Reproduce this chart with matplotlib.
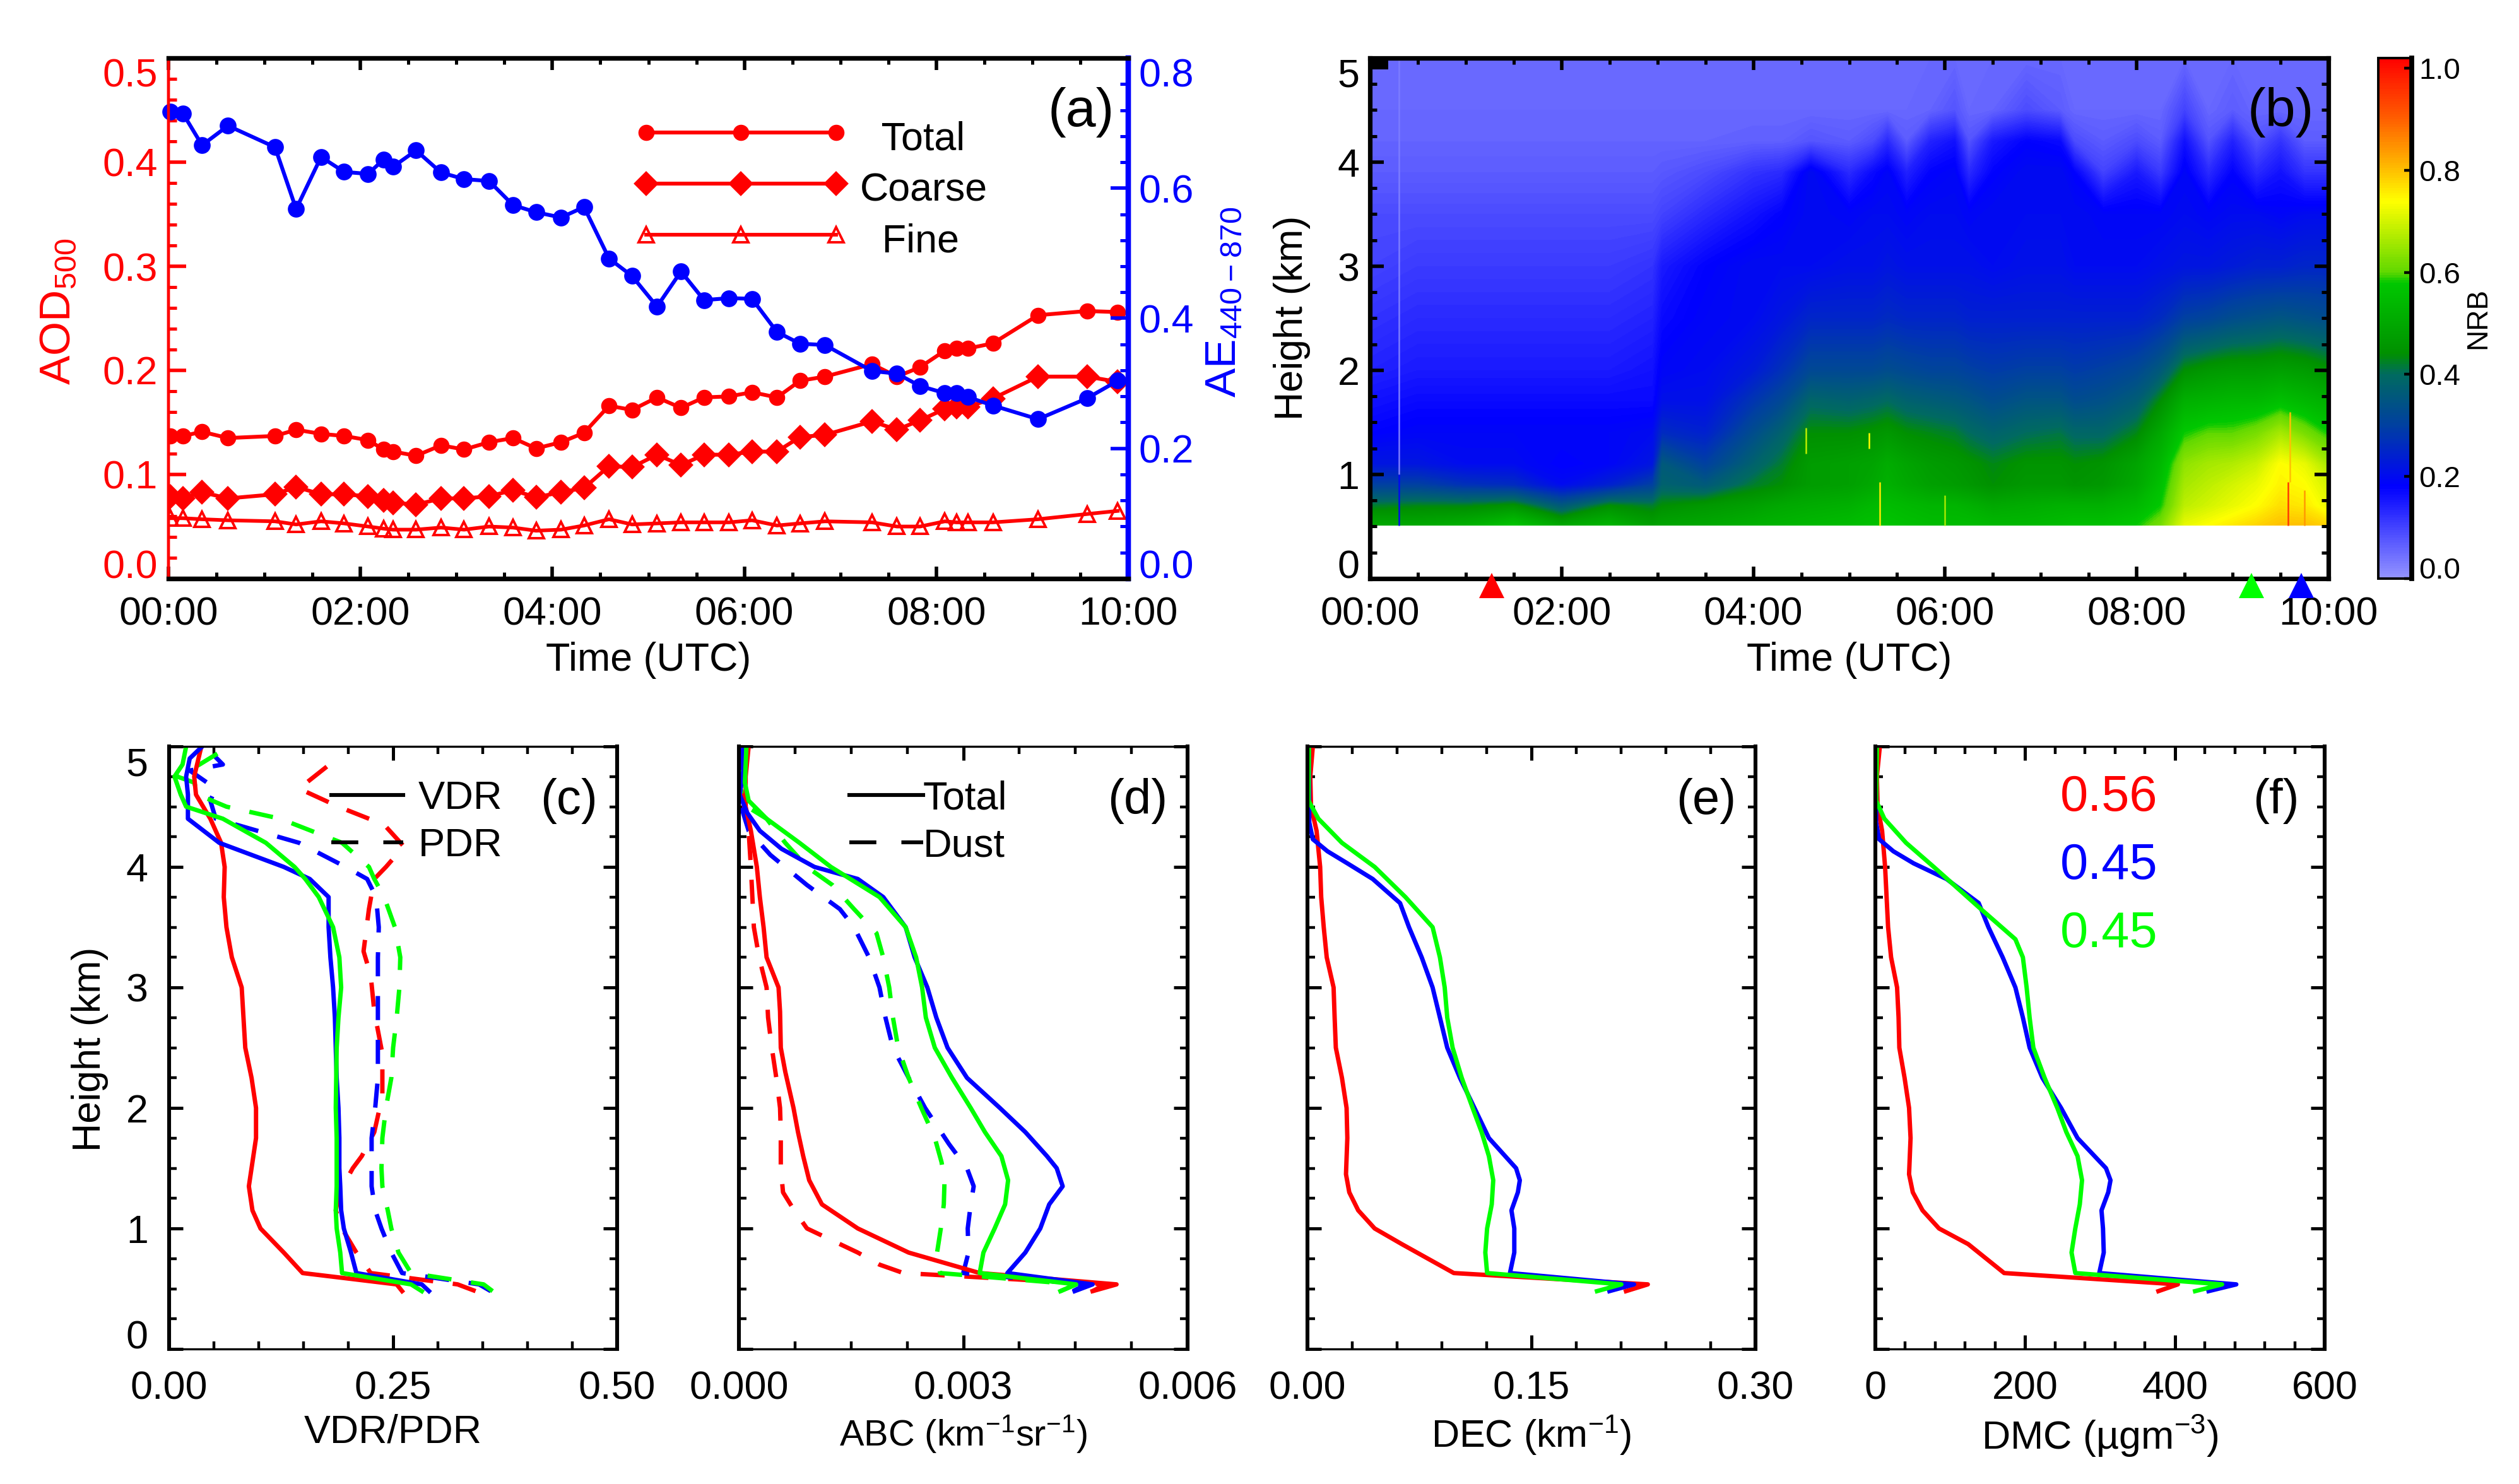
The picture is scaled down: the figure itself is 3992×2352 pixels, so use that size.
import numpy as np
import matplotlib
matplotlib.use('Agg')
import matplotlib.pyplot as plt
from matplotlib.colors import LinearSegmentedColormap, Normalize
from matplotlib.lines import Line2D
from matplotlib.ticker import MultipleLocator

plt.rcParams['font.family'] = ['Liberation Sans', 'DejaVu Sans']
plt.rcParams['mathtext.default'] = 'regular'

W, H = 3992, 2352
RED, BLUE, GREEN = '#ff0000', '#0000ff', '#00ff00'

# panel (a): sun photometer
sun_time = [.02, .15, .35, .62, 1.11, 1.33, 1.59, 1.83, 2.08, 2.24, 2.34, 2.58, 2.84, 3.08, 3.34, 3.59, 3.83, 4.09, 4.33,
            4.59, 4.83, 5.09, 5.34, 5.58, 5.84, 6.08, 6.34, 6.58, 6.84, 7.33, 7.59, 7.83, 8.09, 8.21, 8.33, 8.59, 9.06, 9.57, 9.89]
aod_total = [.137, .137, .141, .135, .137, .143, .139, .137, .133, .124, .122, .118, .128, .124, .131, .135, .125, .131, .140,
             .166, .162, .174, .164, .174, .175, .179, .174, .190, .194, .206, .194, .203, .219, .221, .221, .226, .253, .257, .256]
aod_coarse = [.079, .077, .083, .077, .081, .088, .081, .081, .079, .075, .073, .071, .077, .077, .079, .085, .078, .083, .087,
              .108, .107, .119, .109, .119, .119, .122, .122, .136, .138, .151, .143, .152, .163, .165, .165, .173, .194, .194, .189]
aod_fine = [.058, .058, .057, .056, .055, .052, .055, .053, .05, .048, .047, .047, .049, .047, .05, .049, .046, .047, .051,
            .057, .052, .053, .054, .054, .054, .056, .051, .053, .055, .054, .05, .05, .055, .054, .054, .054, .057, .062, .065]
ae = [.718, .715, .666, .696, .663, .568, .648, .625, .622, .644, .633, .658, .624, .614, .611, .574, .563, .555, .571,
      .492, .465, .418, .472, .428, .431, .43, .379, .361, .359, .319, .315, .296, .285, .285, .279, .266, .245, .277, .304]
time_labels = ['00:00', '02:00', '04:00', '06:00', '08:00', '10:00']
time_ticks = [0, 2, 4, 6, 8, 10]

# panel (b): lidar NRB, rows low to high
nrb_time = [0, .5, 1, 1.5, 2, 2.5, 2.95, 3.05, 3.5, 4, 4.3, 4.6, 5, 5.25, 5.4, 5.6, 5.85, 6.1, 6.25, 6.5, 6.85, 7.2, 7.35, 7.65, 8, 8.25, 8.5, 8.75, 9, 9.25, 9.5, 9.75, 10]
nrb_height = [.51, .7, .9, 1.1, 1.4, 1.7, 2.0, 2.5, 3.0, 3.5, 3.9, 4.2, 4.5, 5.0]
nrb_051 = [.5, .5, .52, .57, .5, .53, .48, .49, .5, .52, .53, .54, .55, .56, .57, .56, .55, .55, .55, .54, .54, .55, .56, .56, .58, .62, .72, .74, .76, .78, .8, .8, .78]
nrb_070 = [.42, .43, .43, .45, .36, .44, .42, .44, .46, .48, .5, .51, .52, .54, .55, .54, .53, .53, .52, .5, .51, .52, .52, .52, .54, .58, .68, .7, .72, .74, .77, .76, .72]
nrb_090 = [.3, .3, .27, .26, .2, .24, .3, .38, .36, .42, .44, .47, .48, .5, .52, .5, .48, .47, .46, .44, .46, .46, .45, .46, .5, .56, .66, .68, .7, .72, .75, .74, .7]
nrb_110 = [.22, .22, .2, .2, .18, .19, .22, .36, .3, .38, .42, .47, .48, .49, .51, .49, .47, .46, .45, .43, .45, .45, .44, .45, .49, .54, .64, .66, .67, .69, .74, .72, .66]
nrb_140 = [.18, .19, .19, .19, .19, .19, .2, .26, .24, .33, .38, .44, .44, .45, .46, .44, .43, .42, .4, .38, .4, .41, .39, .39, .43, .5, .58, .6, .6, .62, .66, .62, .58]
nrb_170 = [.16, .17, .17, .17, .17, .17, .17, .21, .21, .28, .32, .39, .38, .39, .4, .38, .37, .36, .35, .33, .35, .35, .33, .34, .37, .44, .52, .53, .54, .54, .56, .54, .52]
nrb_200 = [.14, .15, .15, .15, .15, .15, .16, .19, .2, .23, .27, .32, .32, .32, .33, .32, .31, .31, .3, .29, .3, .3, .29, .3, .32, .36, .44, .46, .47, .47, .48, .47, .45]
nrb_250 = [.12, .13, .13, .13, .13, .13, .14, .17, .19, .2, .22, .25, .25, .25, .26, .25, .25, .25, .24, .24, .24, .24, .24, .24, .24, .26, .3, .31, .33, .34, .35, .34, .33]
nrb_300 = [.1, .11, .11, .11, .11, .11, .12, .15, .18, .2, .2, .2, .21, .21, .22, .21, .21, .21, .21, .2, .21, .21, .2, .2, .2, .21, .22, .22, .23, .24, .24, .25, .25]
nrb_350 = [.09, .09, .09, .09, .09, .09, .09, .1, .13, .16, .18, .2, .19, .2, .2, .19, .2, .2, .19, .2, .2, .2, .2, .19, .19, .19, .2, .19, .2, .2, .19, .2, .2]
nrb_390 = [.07, .07, .07, .07, .07, .07, .07, .075, .09, .12, .13, .2, .13, .17, .19, .14, .18, .19, .13, .18, .2, .2, .18, .1, .15, .11, .19, .13, .18, .13, .16, .12, .12]
nrb_420 = [.06, .06, .06, .06, .06, .06, .06, .06, .06, .065, .065, .08, .07, .09, .13, .07, .14, .16, .08, .15, .18, .17, .09, .07, .09, .07, .16, .08, .14, .08, .12, .07, .07]
nrb_450 = [.055, .055, .055, .055, .055, .055, .055, .055, .055, .055, .055, .055, .055, .055, .055, .055, .06, .08, .055, .06, .09, .07, .055, .055, .055, .055, .1, .055, .07, .055, .055, .055, .055]
nrb_500 = [.055] * 33
streak_time = [4.55, 5.21, 5.32, 6.0, 9.58, 9.6, 9.75, .3, .3]
streak_low = [1.2, 1.25, .51, .51, .51, .93, .51, 1.0, .51]
streak_high = [1.45, 1.4, .93, .8, .93, 1.6, .85, 5.0, 1.0]
streak_value = [.68, .74, .76, .66, .95, .8, .84, .03, .2]
site_time = [1.27, 9.2, 9.72]

# panel (c): depolarization ratios
vdr_red_h = [.48, .536, .63, .8, 1.0, 1.15, 1.35, 1.5, 1.75, 2.0, 2.25, 2.5, 2.75, 3.0, 3.25, 3.5, 3.75, 4.0, 4.2, 4.4, 4.6, 4.75, 5.0]
vdr_red = [.26, .254, .149, .128, .102, .093, .089, .092, .097, .097, .092, .085, .083, .081, .07, .064, .061, .062, .058, .046, .03, .028, .036]
vdr_blue_h = [.48, .536, .63, .8, 1.0, 1.15, 1.35, 1.5, 1.75, 2.0, 2.25, 2.5, 2.75, 3.0, 3.25, 3.5, 3.75, 3.9, 4.0, 4.2, 4.4, 4.6, 4.75, 4.9, 5.0]
vdr_blue = [.29, .282, .209, .203, .195, .192, .191, .19, .19, .189, .187, .186, .185, .183, .18, .178, .178, .157, .128, .056, .021, .021, .019, .023, .037]
vdr_green_h = [.48, .536, .63, .8, 1.0, 1.15, 1.35, 1.75, 2.0, 2.5, 2.75, 3.0, 3.25, 3.5, 3.75, 3.9, 4.0, 4.2, 4.4, 4.5, 4.6, 4.75, 4.85, 5.0]
vdr_green = [.282, .27, .193, .191, .187, .186, .187, .187, .186, .187, .189, .192, .19, .183, .167, .152, .14, .108, .06, .019, .013, .006, .015, .019]
pdr_red_h = [.48, .536, .63, .8, 1.0, 1.15, 1.3, 1.5, 1.6, 1.8, 2.1, 2.45, 2.8, 3.1, 3.3, 3.65, 3.9, 4.0, 4.17, 4.35, 4.5, 4.65, 4.85]
pdr_red = [.342, .322, .225, .209, .193, .186, .19, .205, .215, .229, .238, .238, .229, .225, .217, .223, .229, .242, .262, .24, .189, .145, .179]
pdr_blue_h = [.48, .536, .63, .8, 1.0, 1.15, 1.35, 1.5, 1.75, 2.0, 2.25, 2.5, 2.75, 3.0, 3.25, 3.5, 3.75, 3.9, 4.0, 4.2, 4.4, 4.55, 4.65, 4.8, 4.85, 5.0]
pdr_blue = [.359, .346, .26, .248, .237, .23, .226, .226, .226, .23, .233, .233, .233, .233, .233, .234, .231, .221, .197, .145, .052, .046, .052, .023, .06, .04]
pdr_green_h = [.48, .536, .63, .8, 1.0, 1.15, 1.35, 1.5, 1.75, 2.0, 2.25, 2.5, 2.75, 3.0, 3.25, 3.5, 3.75, 3.9, 4.0, 4.2, 4.4, 4.5, 4.6, 4.7, 4.75, 4.85, 4.95, 5.0]
pdr_green = [.361, .351, .27, .256, .248, .244, .238, .237, .238, .242, .248, .25, .254, .257, .258, .252, .24, .229, .223, .193, .124, .064, .032, .028, .009, .034, .056, .054]

# panel (d): attenuated backscatter
abc_red_h = [.48, .536, .63, .8, 1.0, 1.2, 1.4, 1.6, 1.8, 2.0, 2.3, 2.5, 2.8, 3.0, 3.25, 3.5, 3.75, 4.0, 4.3, 4.5, 4.75, 5.0]
abc_red = [.00473, .00505, .00322, .00227, .00159, .00111, .00094, .00086, .00079, .00073, .00062, .00056, .00055, .00053, .00037, .00033, .00028, .00024, .00016, .00009, .00009, .00013]
abc_blue_h = [.48, .536, .63, .8, 1.0, 1.2, 1.35, 1.5, 1.6, 1.8, 2.0, 2.25, 2.5, 2.75, 3.0, 3.25, 3.5, 3.75, 3.9, 4.0, 4.15, 4.3, 4.45, 4.6, 4.8, 5.0]
abc_blue = [.00449, .00473, .00359, .00383, .00403, .00415, .00433, .00425, .00412, .00383, .00349, .00305, .00279, .00264, .00252, .00235, .00223, .00193, .00159, .00101, .00057, .00028, .00011, .00001, .00006, .00004]
abc_green_h = [.48, .536, .63, .8, 1.0, 1.2, 1.4, 1.6, 1.8, 2.0, 2.25, 2.5, 2.75, 3.0, 3.25, 3.5, 3.75, 4.0, 4.2, 4.4, 4.55, 4.7, 5.0]
abc_green = [.0043, .00451, .00322, .00327, .00342, .00356, .0036, .00351, .00329, .0031, .00285, .00262, .0025, .00245, .00237, .00223, .00188, .00123, .00081, .00037, .00013, .00008, .0001]
dust_red_h = [.48, .536, .63, .7, .8, 1.0, 1.15, 1.3, 1.5, 1.8, 2.0, 2.25, 2.5, 2.75, 3.0, 3.25, 3.5, 3.75, 4.0, 4.3, 4.5, 4.7, 5.0]
dust_red = [.00473, .0049, .0022, .00188, .00159, .00091, .00074, .00059, .00056, .00056, .00055, .0005, .00044, .00039, .00037, .00027, .0002, .00018, .00016, .00013, .00007, .00002, .00001]
dust_blue_h = [.48, .536, .63, .8, 1.0, 1.2, 1.35, 1.5, 1.7, 2.0, 2.25, 2.5, 2.75, 3.0, 3.25, 3.5, 3.65, 3.85, 4.1, 4.3, 4.5, 5.0]
dust_blue = [.00447, .00464, .003, .00307, .00306, .0031, .00314, .00305, .00281, .00249, .00227, .00206, .00196, .00188, .00174, .00154, .00135, .00091, .00042, .00013, .00003, .00001]
dust_green_h = [.48, .536, .63, .8, 1.0, 1.2, 1.4, 1.55, 1.75, 2.0, 2.25, 2.5, 2.75, 3.0, 3.25, 3.45, 3.65, 3.85, 4.0, 4.2, 4.4, 4.5, 4.65, 5.0]
dust_green = [.0043, .00451, .00269, .00265, .0027, .00274, .00275, .00271, .00262, .00244, .00227, .00213, .00206, .00201, .00193, .00184, .00154, .00125, .00091, .00062, .00037, .00011, .00002, .00008]

# panel (e): dust extinction
dec_red_h = [.48, .536, .63, .87, 1.0, 1.15, 1.3, 1.45, 1.75, 2.0, 2.25, 2.5, 2.75, 3.0, 3.25, 3.5, 3.75, 4.0, 4.3, 4.5, 4.75, 5.0]
dec_red = [.2133, .2279, .098, .0632, .045, .034, .028, .0258, .0267, .0262, .0231, .019, .0182, .0175, .0129, .0109, .0092, .0085, .0061, .0024, .0019, .0036]
dec_blue_h = [.48, .536, .63, .8, 1.0, 1.15, 1.3, 1.4, 1.5, 1.75, 2.0, 2.25, 2.5, 2.75, 3.0, 3.25, 3.5, 3.7, 3.9, 4.03, 4.13, 4.23, 4.37, 5.0]
dec_blue = [.2022, .2187, .1356, .1385, .1385, .1366, .1409, .1422, .1397, .1215, .1118, .1021, .0936, .0887, .0838, .0765, .068, .062, .0437, .0267, .0134, .0036, .0012, .001]
dec_green_h = [.48, .536, .63, .8, 1.0, 1.2, 1.4, 1.6, 1.8, 2.0, 2.25, 2.5, 2.75, 3.0, 3.25, 3.5, 3.75, 4.0, 4.2, 4.4, 4.55, 5.0]
dec_green = [.1939, .2102, .1203, .1191, .1203, .1234, .1244, .1215, .1166, .1106, .1033, .0972, .0936, .0919, .0887, .0838, .0656, .045, .0231, .0073, .0007, .001]

# panel (f): dust mass concentration
dmc_red_h = [.48, .536, .63, .87, 1.0, 1.15, 1.3, 1.45, 1.75, 2.0, 2.25, 2.5, 2.75, 3.0, 3.25, 3.5, 3.75, 4.0, 4.3, 4.5, 4.75, 5.0]
dmc_red = [378, 404, 172, 124, 85, 63, 50, 45, 47, 45, 39, 32, 31, 29, 21, 17, 15, 13, 9, 3, 2, 6]
dmc_blue_h = [.48, .536, .63, .8, 1.0, 1.15, 1.3, 1.4, 1.5, 1.75, 2.0, 2.25, 2.5, 2.75, 3.0, 3.25, 3.5, 3.7, 3.9, 4.03, 4.13, 4.23, 4.37, 5.0]
dmc_blue = [445, 482, 299, 305, 304, 302, 311, 314, 308, 270, 248, 223, 206, 197, 187, 170, 151, 138, 95, 51, 24, 5, 1, 1]
dmc_green_h = [.48, .536, .63, .8, 1.0, 1.2, 1.4, 1.6, 1.8, 2.0, 2.25, 2.5, 2.75, 3.0, 3.25, 3.4, 3.65, 4.0, 4.2, 4.4, 4.55, 5.0]
dmc_green = [427, 463, 267, 262, 267, 273, 276, 270, 255, 243, 226, 211, 206, 202, 197, 187, 141, 78, 41, 12, 1, 2]
ratio_labels = ['0.56', '0.45', '0.45']


def box(x0, x1, y0, y1):
    # pixel box of the reference -> figure fraction
    return [x0 / W, 1 - y1 / H, (x1 - x0) / W, (y1 - y0) / H]


def ends_inside(labels):
    # end labels sit inside the axis range, as in IDL
    labels[0].set_va('baseline')
    labels[-1].set_va('top')


fig = plt.figure(figsize=(W / 400, H / 400), dpi=400)

# ---- (a)
ax = fig.add_axes(box(267, 1788, 92, 917))
ax2 = ax.twinx()
ax.plot(sun_time, aod_total, '-o', c=RED, lw=1.1, ms=3.6)
ax.plot(sun_time, aod_coarse, '-D', c=RED, lw=1.1, ms=4.2)
ax.plot(sun_time, aod_fine, '-^', c=RED, lw=1.05, ms=4.2, mfc='none', mew=.7)
ax2.plot(sun_time, ae, '-o', c=BLUE, lw=1.1, ms=3.8, clip_on=False)
ax.set_xlim(0, 10)
ax.set_ylim(0, .5)
ax2.set_ylim(0, .8)
ax.set_xticks(time_ticks, time_labels)
ax.xaxis.set_minor_locator(MultipleLocator(.5))
ax.set_yticks([0, .1, .2, .3, .4, .5], ['0.0', '0.1', '0.2', '0.3', '0.4', '0.5'])
ax.yaxis.set_minor_locator(MultipleLocator(.02))
ax2.set_yticks([0, .2, .4, .6, .8], ['0.0', '0.2', '0.4', '0.6', '0.8'])
ax2.yaxis.set_minor_locator(MultipleLocator(.04))
ax.tick_params(axis='x', which='major', direction='in', top=True, length=3.5, width=1, labelsize=11.3, pad=5)
ax.tick_params(axis='x', which='minor', direction='in', top=True, length=1.8, width=.9)
ax.tick_params(axis='y', which='major', direction='in', length=5, width=1, color=RED, labelcolor=RED, labelsize=11.3, pad=3)
ax.tick_params(axis='y', which='minor', direction='in', length=2.4, width=.9, color=RED)
ax2.tick_params(axis='y', which='major', direction='in', length=5, width=1, color=BLUE, labelcolor=BLUE, labelsize=11.3, pad=3)
ax2.tick_params(axis='y', which='minor', direction='in', length=2.4, width=.9, color=BLUE)
ends_inside(ax.get_yticklabels())
ends_inside(ax2.get_yticklabels())
for a in (ax, ax2):
    a.spines['top'].set_linewidth(1.3)
    a.spines['bottom'].set_linewidth(1.3)
    a.spines['left'].set_color(RED)
    a.spines['right'].set_color(BLUE)
    a.spines['right'].set_linewidth(1.5)
ax.set_xlabel('Time (UTC)', fontsize=11.3, labelpad=2.4)
keys_a = [Line2D([], [], c=RED, lw=1.1, marker='o', ms=3.6),
          Line2D([], [], c=RED, lw=1.1, marker='D', ms=4.2),
          Line2D([], [], c=RED, lw=1.05, marker='^', ms=4.2, mfc='none', mew=.7)]
ax.legend(keys_a, ['  Total', 'Coarse', '  Fine'], numpoints=3, frameon=False, fontsize=11.3, handlelength=5.4, handleheight=1.3,
          handletextpad=.3, labelspacing=.2, borderpad=0, borderaxespad=0, loc='upper left', bbox_to_anchor=(.485, .89))
fig.text(93 / W, 1 - 494 / H, r'AOD$_{500}$', color=RED, fontsize=12.5, rotation=90, ha='center', va='center')
fig.text(1940 / W, 1 - 478 / H, r'AE$_{440-870}$', color=BLUE, fontsize=12.5, rotation=90, ha='center', va='center')
fig.text(1713 / W, 1 - 178 / H, '(a)', fontsize=15.5, ha='center', va='center')

# ---- (b)
nrb_cmap = LinearSegmentedColormap.from_list('nrb', [
    (0, '#9494ff'), (.18 / 1.02, '#0000ff'), (.3 / 1.02, '#0040a0'), (.4 / 1.02, '#006a60'), (.44 / 1.02, '#009000'),
    (.58 / 1.02, '#00c800'), (.6 / 1.02, '#60d800'), (.74 / 1.02, '#ffff00'), (.8 / 1.02, '#ffc000'),
    (.9 / 1.02, '#ff6000'), (1, '#ff0000')], N=512)
nrb_norm = Normalize(0, 1.02)
nrb = np.array([nrb_051, nrb_070, nrb_090, nrb_110, nrb_140, nrb_170, nrb_200, nrb_250, nrb_300, nrb_350, nrb_390,
                nrb_420, nrb_450, nrb_500])
ax = fig.add_axes(box(2171, 3690, 92, 917))
cf = ax.contourf(nrb_time, nrb_height, nrb, levels=np.linspace(0, 1.02, 205), cmap=nrb_cmap, norm=nrb_norm, antialiased=False)
ax.vlines(streak_time, streak_low, streak_high, colors=nrb_cmap(nrb_norm(streak_value)), lw=.45)
ax.fill_between([0, .19], 4.89, 5, color='k', lw=0)
ax.set_xlim(0, 10)
ax.set_ylim(0, 5)
ax.set_xticks(time_ticks, time_labels)
ax.xaxis.set_minor_locator(MultipleLocator(.5))
ax.set_yticks([0, 1, 2, 3, 4, 5], ['0', '1', '2', '3', '4', '5'])
ax.yaxis.set_minor_locator(MultipleLocator(.25))
ax.tick_params(axis='x', which='major', direction='in', top=True, length=3.5, width=1, labelsize=11.3, pad=5)
ax.tick_params(axis='x', which='minor', direction='in', top=True, length=1.8, width=.9)
ax.tick_params(axis='y', which='major', direction='in', right=True, length=4, width=1, labelsize=11.3, pad=3)
ax.tick_params(axis='y', which='minor', direction='in', right=True, length=2, width=.9)
ends_inside(ax.get_yticklabels())
for s in ax.spines.values():
    s.set_linewidth(1.3)
ax.set_xlabel('Time (UTC)', fontsize=11.3, labelpad=2.4)
for t, c in zip(site_time, [RED, GREEN, BLUE]):
    ax.plot(t, -.065, '^', c=c, ms=7.2, mew=0, clip_on=False, zorder=5)
fig.text(2048 / W, 1 - 504 / H, 'Height (km)', fontsize=11.3, rotation=90, ha='center', va='center')
fig.text(3614 / W, 1 - 178 / H, '(b)', fontsize=15.5, ha='center', va='center')

cax = fig.add_axes(box(3769, 3822, 92, 917))
cbar = fig.colorbar(cf, cax=cax, ticks=[0, .2, .4, .6, .8, 1])
cbar.ax.set_yticklabels(['0.0', '0.2', '0.4', '0.6', '0.8', '1.0'])
cbar.ax.tick_params(direction='in', length=2.2, width=.8, labelsize=8.5, pad=2)
cbar.ax.minorticks_off()
cbar.outline.set_linewidth(.7)
cbar.ax.get_yticklabels()[0].set_va('baseline')
cbar.ax.axvline(1, c='k', lw=1.4, clip_on=False)
fig.text(3927 / W, 1 - 504 / H, 'NRB', fontsize=8.3, rotation=90, ha='center', va='center')

# ---- profile panels
profile_boxes = [(268, 978), (1171, 1882), (2072, 2782), (2972, 3684)]
profile_xmax = [.5, .006, .3, 600]
profile_xmajor = [[0, .25, .5], [0, .003, .006], [0, .15, .3], [0, 200, 400, 600]]
profile_xlabels = [['0.00', '0.25', '0.50'], ['0.000', '0.003', '0.006'], ['0.00', '0.15', '0.30'], ['0', '200', '400', '600']]
profile_xminor = [.05, .00075, .03, 40]
profile_titles = ['VDR/PDR', 'ABC (km$^{-1}$sr$^{-1}$)', 'DEC (km$^{-1}$)', 'DMC (\u00b5gm$^{-3}$)']
profile_title_size = [11.3, 10.4, 11, 11.3]
profile_tags = ['(c)', '(d)', '(e)', '(f)']
tag_px = [902, 1803, 2704, 3607]
solid = [[(vdr_red, vdr_red_h), (vdr_blue, vdr_blue_h), (vdr_green, vdr_green_h)],
         [(abc_red, abc_red_h), (abc_blue, abc_blue_h), (abc_green, abc_green_h)],
         [(dec_red, dec_red_h), (dec_blue, dec_blue_h), (dec_green, dec_green_h)],
         [(dmc_red, dmc_red_h), (dmc_blue, dmc_blue_h), (dmc_green, dmc_green_h)]]
dashed = [[(pdr_red, pdr_red_h), (pdr_blue, pdr_blue_h), (pdr_green, pdr_green_h)],
          [(dust_red, dust_red_h), (dust_blue, dust_blue_h), (dust_green, dust_green_h)],
          [], []]
dash_style = (0, (5.5, 4.5))

axes = []
for i in range(4):
    ax = fig.add_axes(box(profile_boxes[i][0], profile_boxes[i][1], 1183, 2138))
    axes.append(ax)
    for (x, y), c in zip(dashed[i], [RED, BLUE, GREEN]):
        ax.plot(x, y, c=c, lw=1.25, ls=dash_style)
    for (x, y), c in zip(solid[i], [RED, BLUE, GREEN]):
        ax.plot(x, y, c=c, lw=1.25)
    ax.set_xlim(0, profile_xmax[i])
    ax.set_ylim(0, 5)
    ax.set_xticks(profile_xmajor[i], profile_xlabels[i])
    ax.xaxis.set_minor_locator(MultipleLocator(profile_xminor[i]))
    ax.yaxis.set_major_locator(MultipleLocator(1))
    ax.yaxis.set_minor_locator(MultipleLocator(.25))
    ax.tick_params(axis='both', which='major', direction='in', top=True, right=True, length=4, width=.9, labelsize=11.3, pad=6)
    ax.tick_params(axis='both', which='minor', direction='in', top=True, right=True, length=2.1, width=.8)
    for side, lw in zip(['left', 'right', 'top', 'bottom'], [1.1, 1.1, .6, .6]):
        ax.spines[side].set_linewidth(lw)
    ax.set_xlabel(profile_titles[i], fontsize=profile_title_size[i], labelpad=1.8)
    if i == 0:
        ax.set_yticks([0, 1, 2, 3, 4, 5], ['0', '1', '2', '3', '4', '5'])
        ends_inside(ax.get_yticklabels())
    else:
        ax.tick_params(axis='y', labelleft=False)
    fig.text(tag_px[i] / W, 1 - 1269 / H, profile_tags[i], fontsize=14, ha='center', va='center')

fig.text(143 / W, 1 - 1663 / H, 'Height (km)', fontsize=11.3, rotation=90, ha='center', va='center')

keys_solid_dash = [Line2D([], [], c='k', lw=1.1), Line2D([], [], c='k', lw=1.1, ls=(0, (7, 6.5)))]
axes[0].legend(keys_solid_dash, ['VDR', 'PDR'], frameon=False, fontsize=11.4, handlelength=1.8, handletextpad=.37,
               labelspacing=.25, borderpad=0, borderaxespad=0, loc='upper left', bbox_to_anchor=(.362, .944))
axes[1].legend(keys_solid_dash, ['Total', 'Dust'], frameon=False, fontsize=11.4, handlelength=1.85, handletextpad=0,
               labelspacing=.25, borderpad=0, borderaxespad=0, loc='upper left', bbox_to_anchor=(.246, .944))

for txt, c, py in zip(ratio_labels, [RED, BLUE, GREEN], [1265, 1373, 1481]):
    fig.text(3342 / W, 1 - py / H, txt, color=c, fontsize=14.3, ha='center', va='center')

fig.savefig('out.png', dpi=400)
